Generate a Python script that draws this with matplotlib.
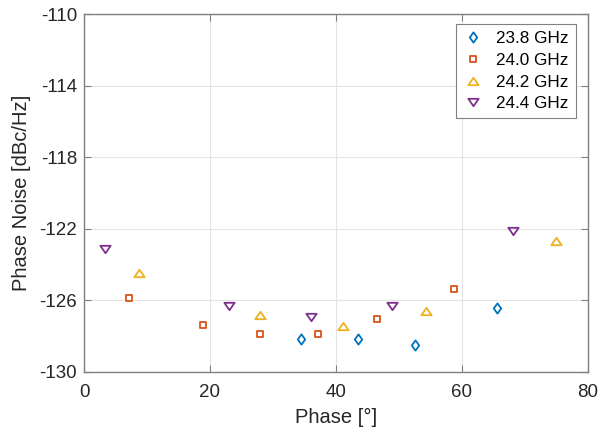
import matplotlib
matplotlib.use("Agg")
import matplotlib.pyplot as plt
from matplotlib.path import Path

plt.rcParams['font.family'] = ['Liberation Sans', 'DejaVu Sans']
plt.rcParams['axes.unicode_minus'] = False

labels = ["23.8 GHz", "24.0 GHz", "24.2 GHz", "24.4 GHz"]
x_238 = [34.4, 43.5, 52.5, 65.5]
y_238 = [-128.16, -128.16, -128.51, -126.41]
x_240 = [7.1, 18.9, 27.9, 37.1, 46.5, 58.8]
y_240 = [-125.88, -127.39, -127.89, -127.89, -127.06, -125.38]
x_242 = [8.8, 27.9, 41.2, 54.3, 75.0]
y_242 = [-124.49, -126.82, -127.43, -126.61, -122.70]
x_244 = [3.3, 23.1, 36.1, 48.9, 68.1]
y_244 = [-123.13, -126.31, -126.91, -126.31, -122.11]

xticks = [0, 20, 40, 60, 80]
yticks = [-130, -126, -122, -118, -114, -110]

colors = ["#0072BD", "#D95319", "#EDB120", "#7E2F8E"]

diamond = Path([(0, 1), (0.72, 0), (0, -1), (-0.72, 0), (0, 1)], closed=True)
square = Path([(-1, -1), (1, -1), (1, 1), (-1, 1), (-1, -1)], closed=True)
tri_up = Path([(-1, -0.72), (1, -0.72), (0, 0.72), (-1, -0.72)], closed=True)
tri_dn = Path([(-1, 0.72), (1, 0.72), (0, -0.72), (-1, 0.72)], closed=True)
markers = [diamond, square, tri_up, tri_dn]
sizes = [7.4, 4.3, 7.4, 7.4]

fig = plt.figure(figsize=(5.98, 4.34), dpi=100)
ax = fig.add_axes([0.1405, 0.1429, 0.983 - 0.1405, 0.9677 - 0.1429])

series = [(x_238, y_238), (x_240, y_240), (x_242, y_242), (x_244, y_244)]
for (xs, ys), c, m, s, lab in zip(series, colors, markers, sizes, labels):
    ax.plot(xs, ys, linestyle='none', marker=m, markersize=s, markerfacecolor='none',
            markeredgecolor=c, markeredgewidth=1.3, label=lab)

ax.set_xlim(0, 80)
ax.set_ylim(-130, -110)
ax.set_xticks(xticks)
ax.set_yticks(yticks)
ax.grid(True, color='#e3e3e3', linewidth=0.8)
ax.set_axisbelow(True)
for sp in ax.spines.values():
    sp.set_color('#808080')
    sp.set_linewidth(1.0)
ax.tick_params(direction='in', top=True, right=True, colors='#808080',
               labelcolor='#262626', labelsize=13.5, length=5)
ax.tick_params(axis='x', pad=9)
ax.tick_params(axis='y', pad=5)
ax.set_xlabel("Phase [°]", fontsize=14.5, color='#262626', labelpad=5)
ax.set_ylabel("Phase Noise [dBc/Hz]", fontsize=14.5, color='#262626', labelpad=6)

leg = ax.legend(loc='upper right', bbox_to_anchor=(0.976, 0.972), fontsize=12.3,
                fancybox=False, framealpha=1, edgecolor='#808080',
                handlelength=1.2, handletextpad=0.75, borderpad=0.4, labelspacing=0.4,
                borderaxespad=0.0)
leg.get_frame().set_linewidth(0.8)

fig.savefig("out.png", dpi=100)
